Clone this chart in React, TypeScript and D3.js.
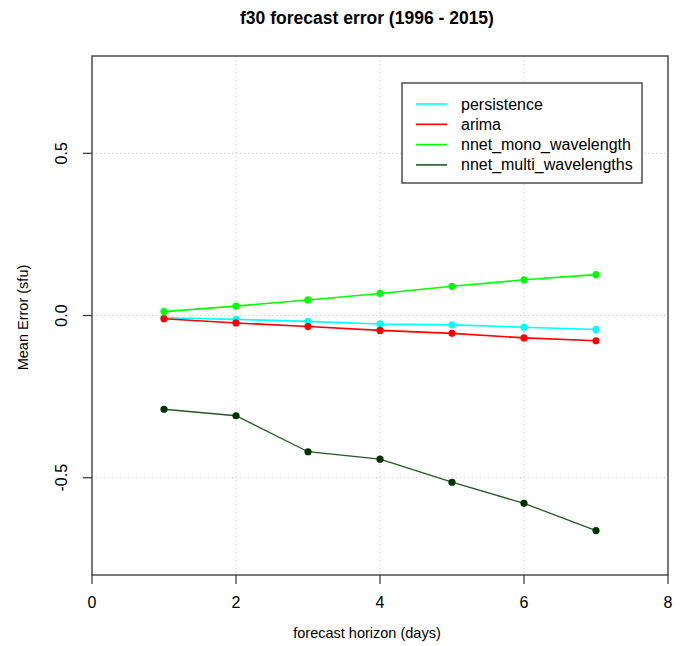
import React from "react";
import * as d3 from "d3";

const horizons = [1, 2, 3, 4, 5, 6, 7];
const persistence = [-0.007, -0.012, -0.018, -0.026, -0.029, -0.036, -0.043];
const arima = [-0.01, -0.023, -0.034, -0.046, -0.055, -0.069, -0.078];
const nnetMono = [0.012, 0.029, 0.048, 0.068, 0.09, 0.11, 0.126];
const nnetMulti = [-0.289, -0.309, -0.42, -0.443, -0.514, -0.579, -0.663];
const seriesNames = ["persistence", "arima", "nnet_mono_wavelength", "nnet_multi_wavelengths"];
const seriesValues = [persistence, arima, nnetMono, nnetMulti];
const lineColors = ["#00FFFF", "#FF0000", "#00FF00", "#2a552a"];
const pointColors = ["#00FFFF", "#FF0000", "#00FF00", "#003300"];
const xTicks = [0, 2, 4, 6, 8];
const yTicks = [-0.5, 0, 0.5];
const xDomain = [0, 8];
const yDomain = [-0.8, 0.8];

export default function App() {
  const W = 688, H = 646;
  const left = 92, right = 668, top = 56, bottom = 575;
  const x = d3.scaleLinear().domain(xDomain).range([left, right]);
  const y = d3.scaleLinear().domain(yDomain).range([bottom, top]);
  const line = d3.line<number>().x((_, i) => x(horizons[i])).y((d) => y(d));
  const font = "'Liberation Sans', Arial, sans-serif";
  const legX = 402, legY = 83, legW = 240, legH = 100;
  return (
    <svg width={W} height={H} style={{ position: "absolute", left: 0, top: 0, background: "#fff" }} fontFamily={font}>
      <text x={(left + right) / 2 - 13} y={24} textAnchor="middle" fontSize={17.5} fontWeight="bold" fill="#000">
        f30 forecast error (1996 - 2015)
      </text>
      {xTicks.slice(1, -1).map((t) => (
        <line key={"gx" + t} x1={x(t)} x2={x(t)} y1={top} y2={bottom} stroke="#d0d0d0" strokeDasharray="1.5,2.5" />
      ))}
      {yTicks.map((t) => (
        <line key={"gy" + t} x1={left} x2={right} y1={y(t)} y2={y(t)} stroke="#d0d0d0" strokeDasharray="1.5,2.5" />
      ))}
      {seriesValues.map((vals, si) => (
        <g key={seriesNames[si]}>
          <path d={line(vals) || ""} fill="none" stroke={lineColors[si]} strokeWidth={si === 3 ? 1.3 : 1.6} />
          {vals.map((v, i) => (
            <circle key={i} cx={x(horizons[i])} cy={y(v)} r={3.6} fill={pointColors[si]} />
          ))}
        </g>
      ))}
      <rect x={left} y={top} width={right - left} height={bottom - top} fill="none" stroke="#333" strokeWidth={1.3} />
      {xTicks.map((t) => (
        <g key={"xt" + t}>
          <line x1={x(t)} x2={x(t)} y1={bottom} y2={bottom + 9} stroke="#333" strokeWidth={1.2} />
          <text x={x(t)} y={bottom + 33} textAnchor="middle" fontSize={16} fill="#000">{t}</text>
        </g>
      ))}
      {yTicks.map((t) => (
        <g key={"yt" + t}>
          <line x1={left - 9} x2={left} y1={y(t)} y2={y(t)} stroke="#333" strokeWidth={1.2} />
          <text transform={`translate(${left - 25},${y(t)}) rotate(-90)`} textAnchor="middle" fontSize={16} fill="#000">
            {d3.format(".1f")(t).replace("−", "-")}
          </text>
        </g>
      ))}
      <text x={(left + right) / 2 - 13} y={638} textAnchor="middle" fontSize={14.5} fill="#000">forecast horizon (days)</text>
      <text transform={`translate(28,${(top + bottom) / 2 + 2}) rotate(-90)`} textAnchor="middle" fontSize={14.5} fill="#000">
        Mean Error (sfu)
      </text>
      <rect x={legX} y={legY} width={legW} height={legH} fill="#fff" stroke="#333" strokeWidth={1.3} />
      {seriesNames.map((n, i) => (
        <g key={"lg" + n}>
          <line x1={416} x2={447} y1={104 + i * 20.3} y2={104 + i * 20.3} stroke={lineColors[i]} strokeWidth={1.6} />
          <text x={461} y={104 + i * 20.3 + 5.5} fontSize={16} fill="#000">{n}</text>
        </g>
      ))}
    </svg>
  );
}
